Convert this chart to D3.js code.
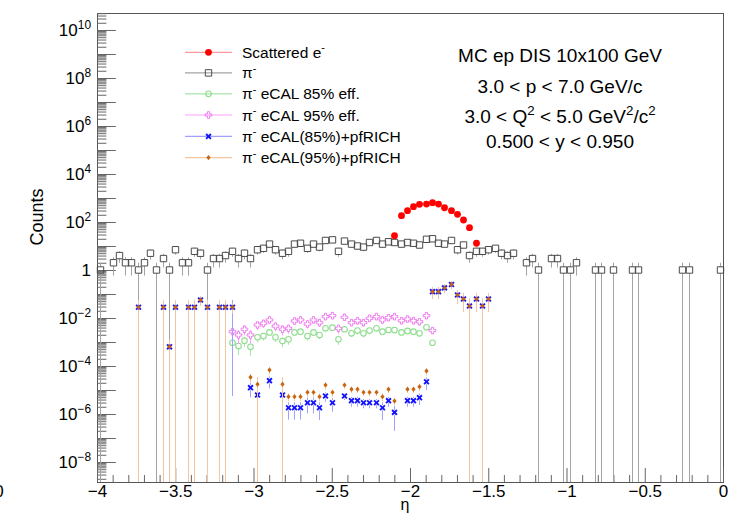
<!DOCTYPE html>
<html><head><meta charset="utf-8">
<script src="https://cdn.jsdelivr.net/npm/d3@7"></script>
<style>
body{margin:0;background:#fff;}
svg{display:block;font-family:"Liberation Sans",Arial,Helvetica,sans-serif;}
</style>
</head><body>
<svg id="c" width="743" height="514"></svg>
<script>
// ---------------- data ----------------
const etaMin = -4, etaMax = 0, binWidth = 0.04;
const xTickValues = [-4, -3.5, -3, -2.5, -2, -1.5, -1, -0.5, 0];
const xTickLabels = ["\u22124", "\u22123.5", "\u22123", "\u22122.5", "\u22122", "\u22121.5", "\u22121", "\u22120.5", "0"];
const yLabelExponents = [-8, -6, -4, -2, 0, 2, 4, 6, 8, 10];
const yMin = 1.47e-9, yMax = 5.1e10;

// pi- counts per bin (100 bins from -4 to 0)
const piCounts = [
  1,0,2,4,2,2,1,2,5,1, 3,1,7,2,2,6,5,1,3,3,
  4,6,3,5,3,7,8,12,7,5, 6,12,13,8,12,9,17,18,6,16,
  12,10,9,14,17,12,15,14,12,14, 13,11,19,20,13,12,17,7,11,4,
  6,6,7,8,5,4,5,0,2,3, 1,0,3,3,1,1,2,0,0,1,
  1,0,1,0,0,1,1,0,0,0, 0,0,0,1,1,0,0,0,0,1
];

// scattered electrons, bins 47..60
const electronFirstBin = 47;
const electronCounts = [27, 183, 296, 434, 547, 560, 636, 560, 393, 296, 209, 121, 58, 13];

// eCAL-only suppressed pions, bins 21..53
const ecalFirstBin = 21;
const ecal85 = [9.3e-4, 6.8e-4, 1.14e-3, 6.3e-4, 1.58e-3, 1.78e-3, 2.5e-3, 1.58e-3, 1.1e-3, 1.3e-3,
  2.5e-3, 2.7e-3, 1.78e-3, 2.5e-3, 1.96e-3, 3.7e-3, 3.96e-3, 1.3e-3, 3.4e-3, 2.3e-3,
  3.0e-3, 2.3e-3, 3.0e-3, 3.7e-3, 2.7e-3, 3.16e-3, 3.16e-3, 2.5e-3, 2.9e-3, 2.7e-3,
  2.3e-3, 4.1e-3, 9.3e-4];
const ecal95 = [2.7e-3, 1.96e-3, 3.4e-3, 1.96e-3, 5.1e-3, 6.0e-3, 8.3e-3, 4.6e-3, 3.4e-3, 3.7e-3,
  7.5e-3, 8.3e-3, 5.6e-3, 8.3e-3, 6.4e-3, 0.0114, 0.0125, 3.7e-3, 0.0107, 6.4e-3,
  7.7e-3, 6.4e-3, 9.7e-3, 0.0114, 8.3e-3, 0.0103, 0.0114, 7.7e-3, 9.1e-3, 7.7e-3,
  7.0e-3, 0.0125, 3.0e-3];

// eCAL + pfRICH: [bin, value, relative error]
const pfrich85 = [
  [6,0.028,1],[10,0.028,1],[11,6.3e-4,1],[12,0.028,1],[14,0.028,1],[15,0.028,1],[16,0.056,0.4],
  [17,0.028,1],[19,0.028,1],[20,0.028,1],[21,0.028,0.9998],
  [24,1.25e-5,0.6],[25,6.2e-6,1],[27,2.45e-5,0.52],[29,6.2e-6,1],[30,1.83e-6,0.68],[31,1.83e-6,0.68],
  [32,1.83e-6,0.68],[33,2.96e-6,0.64],[34,2.96e-6,0.64],[35,1.83e-6,0.69],[36,5.6e-6,0.42],[37,2.96e-6,0.58],
  [39,5.6e-6,0.32],[40,3.6e-6,0.44],[41,3.6e-6,0.44],[42,2.96e-6,0.42],[43,2.96e-6,0.42],[44,2.96e-6,0.42],
  [45,1.83e-6,0.69],[46,3.6e-6,0.44],[47,1.17e-6,0.83],[49,3.6e-6,0.44],[50,3.6e-6,0.44],[51,4.8e-6,0.5],
  [52,2.2e-5,0.55],
  [53,0.125,0.5],[54,0.125,0.5],[55,0.18,0.4],[56,0.25,0.35],[57,0.091,0.58],[58,0.062,0.71],
  [59,0.0316,1],[60,0.062,0.71],[61,0.0316,1],[62,0.062,0.71]
];
const pfrich95 = [
  [6,0.028,1],[10,0.028,1],[11,6.3e-4,1],[12,0.028,1],[14,0.028,1],[15,0.028,1],[16,0.056,0.4],
  [17,0.028,1],[19,0.028,1],[20,0.028,1],[21,0.028,0.45],
  [24,3.4e-5,0.4],[25,1.73e-5,1],[27,6.8e-5,0.35],[29,1.73e-5,1],[30,5.3e-6,0.36],[31,5.3e-6,0.36],
  [32,5.3e-6,0.36],[33,8.0e-6,0.35],[34,8.0e-6,0.35],[35,5.3e-6,0.35],[36,1.6e-5,0.35],[37,8.0e-6,0.35],
  [39,1.6e-5,0.3],[40,1.07e-5,0.3],[41,1.07e-5,0.3],[42,8e-6,0.3],[43,8e-6,0.3],[44,8e-6,0.3],
  [45,5.3e-6,0.35],[46,1.07e-5,0.3],[47,3.5e-6,0.35],[49,1.07e-5,0.3],[50,1.07e-5,0.3],[51,1.37e-5,0.3],
  [52,6.2e-5,0.35],
  [53,0.125,0.5],[54,0.125,0.5],[55,0.18,0.4],[56,0.25,0.35],[57,0.091,0.58],[58,0.062,0.71],
  [59,0.0316,1],[60,0.062,0.71],[61,0.0316,1],[62,0.062,0.71]
];

const legendLabels = [
  [["Scattered e",""],["-","sup"]],
  [["\u03c0",""],["-","sup"]],
  [["\u03c0",""],["-","sup"],[" eCAL 85% eff.",""]],
  [["\u03c0",""],["-","sup"],[" eCAL 95% eff.",""]],
  [["\u03c0",""],["-","sup"],[" eCAL(85%)+pfRICH",""]],
  [["\u03c0",""],["-","sup"],[" eCAL(95%)+pfRICH",""]]
];
const infoLines = [
  [["MC ep DIS 10x100 GeV",""]],
  [["3.0 < p < 7.0 GeV/c",""]],
  [["3.0 < Q",""],["2","sup"],[" < 5.0 GeV",""],["2","sup"],["/c",""],["2","sup"]],
  [["0.500 < y < 0.950",""]]
];

// ---------------- layout / style ----------------
const frame = {l: 97, r: 723, t: 13, b: 482};
const svg = d3.select("#c");
const x = d3.scaleLinear().domain([etaMin, etaMax]).range([frame.l, frame.r]);
const y = d3.scaleLog().domain([yMin, yMax]).range([frame.b, frame.t]);
const binCenter = b => x(etaMin + (b + 0.5) * binWidth);

const styles = {
  ele:  {line: "#ff9a9a", marker: "circleFill", color: "#ff0000", gap: 3.4},
  pi:   {line: "#a3a3a3", marker: "square",     color: "#4a4a4a", gap: 3.3},
  e85:  {line: "#a8e6a8", marker: "circleOpen", color: "#8ede8e", gap: 3.0},
  e95:  {line: "#ffa0ff", marker: "crossOpen",  color: "#f07cf0", gap: 3.3},
  p85:  {line: "#a0a0ff", marker: "xMark",      color: "#1414ff", gap: 2.6},
  p95:  {line: "#f4c6a0", marker: "diamond",    color: "#c9650f", gap: 2.6}
};

function markerPath(type) {
  switch (type) {
    case "square": return "M-3.2,-3.2h6.4v6.4h-6.4z";
    case "crossOpen": { const a = 1.1, L = 3.3;
      return `M${-a},${-L}H${a}V${-a}H${L}V${a}H${a}V${L}H${-a}V${a}H${-L}V${-a}H${-a}Z`; }
    case "xMark": return "M-2.4,-2.4L2.4,2.4M-2.4,2.4L2.4,-2.4";
    case "diamond": return "M0,-2.7L2.1,0L0,2.7L-2.1,0Z";
  }
  return null;
}
function drawMarker(g, type, color, cx, cy) {
  if (type === "circleFill") {
    g.append("circle").attr("cx", cx).attr("cy", cy).attr("r", 3.4).attr("fill", color);
  } else if (type === "circleOpen") {
    g.append("circle").attr("cx", cx).attr("cy", cy).attr("r", 2.8)
      .attr("fill", "none").attr("stroke", color).attr("stroke-width", 1.1);
  } else {
    const p = g.append("path").attr("d", markerPath(type)).attr("transform", `translate(${cx},${cy})`);
    if (type === "square" || type === "crossOpen") p.attr("fill", "none").attr("stroke", color).attr("stroke-width", 1);
    else if (type === "xMark") p.attr("fill", "none").attr("stroke", color).attr("stroke-width", 1.9);
    else p.attr("fill", color);
  }
}

function drawSeries(points, st) {
  const g = svg.append("g");
  points.forEach(p => {
    const cx = Math.round(binCenter(p.bin)) + 0.5, cy = y(p.v);
    const lo = p.v - p.err, hi = p.v + p.err;
    const ylo = lo > yMin ? y(lo) : frame.b;
    const yhi = Math.max(y(hi), frame.t);
    if (ylo > cy + st.gap) g.append("line").attr("x1", cx).attr("x2", cx).attr("y1", cy + st.gap).attr("y2", ylo)
      .attr("stroke", st.line).attr("stroke-width", 1);
    if (yhi < cy - st.gap) g.append("line").attr("x1", cx).attr("x2", cx).attr("y1", cy - st.gap).attr("y2", yhi)
      .attr("stroke", st.line).attr("stroke-width", 1);
  });
  points.forEach(p => drawMarker(g, st.marker, st.color, Math.round(binCenter(p.bin)) + 0.5, y(p.v)));
}

function richText(sel, parts, fs) {
  let raised = false;
  parts.forEach(([t, kind]) => {
    const ts = sel.append("tspan").text(t);
    if (kind === "sup") {
      ts.attr("font-size", fs * 0.7);
      if (!raised) ts.attr("dy", -fs * 0.42);
      raised = true;
    } else {
      if (raised) ts.attr("dy", fs * 0.42);
      raised = false;
    }
  });
}

// ---------------- frame & axes ----------------
svg.append("rect").attr("x", frame.l + 0.5).attr("y", frame.t + 0.5)
  .attr("width", frame.r - frame.l).attr("height", frame.b - frame.t)
  .attr("fill", "none").attr("stroke", "#555").attr("stroke-width", 1);

const minorX = d3.range(-40, 1).map(i => i / 10).filter(v => Math.abs(v * 2 - Math.round(v * 2)) > 1e-6);
const gx1 = svg.append("g").attr("transform", `translate(0,${frame.b})`)
  .call(d3.axisBottom(x).tickValues(minorX).tickSizeInner(-7).tickSizeOuter(0).tickFormat(""));
const gx2 = svg.append("g").attr("transform", `translate(0,${frame.b})`)
  .call(d3.axisBottom(x).tickValues(xTickValues).tickSizeInner(-14).tickSizeOuter(0).tickPadding(3)
    .tickFormat((d, i) => xTickLabels[i]));
[gx1, gx2].forEach(g => { g.select(".domain").remove(); g.selectAll("line").attr("stroke", "#666"); });
gx2.selectAll("text").attr("font-size", 17).attr("fill", "#000")
  .attr("font-family", "'Liberation Sans',Arial,sans-serif");

const minorY = [], majorY = [];
for (let n = -9; n <= 10; n++) {
  majorY.push(Math.pow(10, n));
  for (let k = 2; k <= 9; k++) minorY.push(k * Math.pow(10, n));
}
const inDom = v => v >= yMin && v <= yMax;
const gy1 = svg.append("g").attr("transform", `translate(${frame.l},0)`)
  .call(d3.axisLeft(y).tickValues(minorY.filter(inDom)).tickSizeInner(-9.4).tickSizeOuter(0).tickFormat(""));
const gy2 = svg.append("g").attr("transform", `translate(${frame.l},0)`)
  .call(d3.axisLeft(y).tickValues(majorY.filter(inDom)).tickSizeInner(-18.8).tickSizeOuter(0).tickFormat(""));
[gy1, gy2].forEach(g => { g.select(".domain").remove(); g.selectAll("line").attr("stroke", "#666"); });

const yFs = 17;
yLabelExponents.forEach(e => {
  const t = svg.append("text").attr("x", 91).attr("y", y(Math.pow(10, e)) + 6)
    .attr("text-anchor", "end").attr("font-size", yFs).attr("fill", "#000");
  if (e === 0) t.text("1");
  else richText(t, [["10", ""], [String(e).replace("-", "\u2212"), "sup"]], yFs);
});

svg.append("text").attr("transform", "translate(43,217) rotate(-90)")
  .attr("text-anchor", "middle").attr("font-size", 18).text("Counts");
svg.append("text").attr("x", 405).attr("y", 510).attr("text-anchor", "middle")
  .attr("font-size", 16).text("\u03b7");
svg.append("text").attr("x", -1).attr("y", 497).attr("text-anchor", "middle")
  .attr("font-size", 17).text("0");

// ---------------- data series ----------------
const piPts = piCounts.map((c, b) => ({bin: b, v: c, err: Math.sqrt(c)})).filter(p => p.v > 0);
const elePts = electronCounts.map((c, i) => ({bin: electronFirstBin + i, v: c, err: Math.sqrt(c)}));
const e85Pts = ecal85.map((v, i) => { const b = ecalFirstBin + i; return {bin: b, v: v, err: v / Math.sqrt(piCounts[b])}; });
const e95Pts = ecal95.map((v, i) => { const b = ecalFirstBin + i; return {bin: b, v: v, err: v / Math.sqrt(piCounts[b])}; });
const p85Pts = pfrich85.map(([b, v, r]) => ({bin: b, v: v, err: v * r}));
const p95Pts = pfrich95.map(([b, v, r]) => ({bin: b, v: v, err: v * r}));

drawSeries(piPts, styles.pi);
drawSeries(elePts, styles.ele);
drawSeries(e85Pts, styles.e85);
drawSeries(e95Pts, styles.e95);
drawSeries(p85Pts, styles.p85);
drawSeries(p95Pts, styles.p95);

// ---------------- legend ----------------
const legendKeys = ["ele", "pi", "e85", "e95", "p85", "p95"];
const legRows = [52.3, 72.9, 93.8, 115, 136.4, 157.6];
const legFs = 15.5;
const lg = svg.append("g");
legendKeys.forEach((k, i) => {
  const st = styles[k], yy = legRows[i];
  lg.append("line").attr("x1", 185).attr("x2", 232).attr("y1", yy).attr("y2", yy)
    .attr("stroke", st.line).attr("stroke-width", 1.2);
  drawMarker(lg, st.marker, st.color, 208.5, yy);
  const t = lg.append("text").attr("x", 242).attr("y", yy + 5.5).attr("font-size", legFs);
  richText(t, legendLabels[i], legFs);
});

// ---------------- info text ----------------
const infoY = [61.5, 93, 123, 148];
const infoFs = 19;
infoLines.forEach((parts, i) => {
  const t = svg.append("text").attr("x", 560).attr("y", infoY[i]).attr("text-anchor", "middle")
    .attr("font-size", infoFs);
  richText(t, parts, infoFs);
});
</script>
</body></html>
